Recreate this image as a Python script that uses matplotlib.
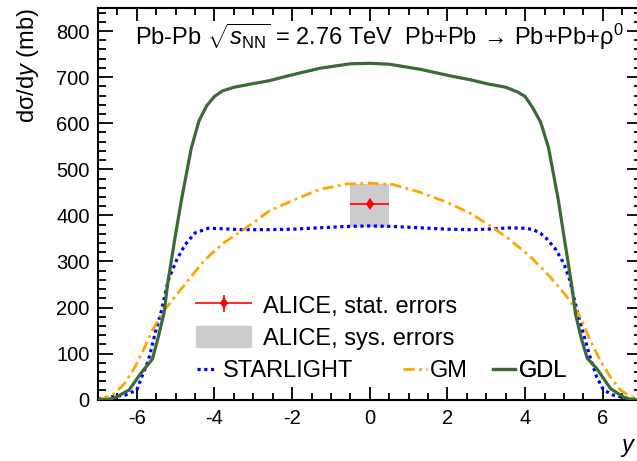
import numpy as np
import matplotlib
matplotlib.use("Agg")
import matplotlib.pyplot as plt
from matplotlib.patches import Patch
from matplotlib.lines import Line2D
from matplotlib.legend_handler import HandlerErrorbar
from matplotlib.ticker import MultipleLocator

plt.rcParams['font.family'] = ['Liberation Sans', 'DejaVu Sans']
plt.rcParams['mathtext.fontset'] = 'custom'
plt.rcParams['mathtext.rm'] = 'Liberation Sans'
plt.rcParams['mathtext.it'] = 'Liberation Sans:italic'
plt.rcParams['mathtext.sf'] = 'Liberation Sans'
plt.rcParams['axes.unicode_minus'] = False

# --- model curves, d sigma / dy in mb ---
gdl_y = [-7.0, -6.75, -6.55, -6.2, -5.9, -5.6, -5.45, -5.3, -5.2, -5.0, -4.85, -4.6, -4.4, -4.2,
         -4.0, -3.8, -3.5, -3.0, -2.6, -2.0, -1.3, -0.5, 0.0, 0.5, 1.3, 2.0, 2.6, 3.0, 3.5, 3.8,
         4.0, 4.2, 4.4, 4.6, 4.85, 5.0, 5.2, 5.3, 5.45, 5.6, 5.85, 6.2, 6.55, 6.75, 7.0]
gdl_val = [0, 0, 5, 21, 57, 88, 135, 188, 255, 360, 434, 545, 605, 638,
           658, 670, 678, 686, 692, 705, 719, 729, 730, 728, 717, 704, 694, 686, 678, 668,
           658, 633, 602, 548, 436, 355, 248, 185, 132, 90, 67, 24, 5, 0, 0]

starlight_y = [-7.0, -6.6, -6.3, -6.0, -5.87, -5.7, -5.53, -5.36, -5.19, -4.97, -4.76, -4.5,
               -4.16, -3.8, -3.3, -2.6, -2.0, -1.3, -0.6, 0.0, 0.6, 1.3, 2.0, 2.6, 3.0, 3.6,
               4.0, 4.21, 4.4, 4.56, 4.8, 5.0, 5.15, 5.33, 5.5, 5.67, 5.84, 6.02, 6.27, 6.62, 7.0]
starlight_val = [1, 7, 10, 21, 50, 86, 144, 195, 260, 304, 336, 362,
                 372, 371, 369, 369, 370, 373, 376, 377, 376, 373, 370, 369, 370, 373,
                 372, 369, 361, 349, 325, 295, 260, 195, 144, 93, 50, 21, 10, 3, 1]

gm_y = [-7.0, -6.85, -6.56, -6.3, -6.04, -5.79, -5.57, -5.35, -5.01, -4.67, -4.24, -3.77,
        -3.2, -2.6, -2.0, -1.3, -0.6, 0.0, 0.6, 1.3, 2.0, 2.6, 3.2, 3.61, 4.13, 4.64, 5.07,
        5.42, 5.67, 5.93, 6.19, 6.45, 6.71, 7.0]
gm_val = [0, 3, 14, 37, 72, 115, 155, 188, 224, 260, 304, 340,
          372, 409, 432, 456, 468, 470, 467, 450, 428, 404, 372, 347, 311, 267, 224,
          180, 130, 86, 50, 21, 7, 0]

# --- ALICE measurement ---
alice_y = [0.0]
alice_val = [425]
alice_bin = [0.5]
alice_stat = [10]
alice_sys_lo = [50]
alice_sys_hi = [42]

fig = plt.figure(figsize=(6.37, 4.61), dpi=100)
ax = fig.add_axes([98 / 637, 61.3 / 461, 543.6 / 637, 391.7 / 461])

ax.bar(alice_y, np.add(alice_sys_lo, alice_sys_hi), width=2 * alice_bin[0],
       bottom=np.subtract(alice_val, alice_sys_lo), color='#cccccc', zorder=1)
ax.plot(starlight_y, starlight_val, color='#0000ff', lw=2.3, ls=(0, (1, 1.1)), zorder=3)
ax.plot(gm_y, gm_val, color='#ffa500', lw=2.0, ls=(0, (4, 1.6, 1, 1.6)), zorder=3)
ax.plot(gdl_y, gdl_val, color='#3b6b35', lw=2.3, zorder=3)
eb = ax.errorbar(alice_y, alice_val, xerr=alice_bin, yerr=alice_stat, fmt='d', color='red',
                 ms=6, mew=0, elinewidth=1.2, capsize=0, zorder=4)

ax.set_xlim(-7, 7)
ax.set_ylim(0, 850)
ax.xaxis.set_major_locator(MultipleLocator(2))
ax.xaxis.set_minor_locator(MultipleLocator(0.5))
ax.yaxis.set_major_locator(MultipleLocator(100))
ax.yaxis.set_minor_locator(MultipleLocator(20))
ax.tick_params(which='both', direction='in', top=True, right=True, width=1.3, labelsize=14.5)
ax.tick_params(axis='x', which='major', length=9.5, pad=7)
ax.tick_params(axis='x', which='minor', length=5)
ax.tick_params(axis='y', which='major', length=11, pad=6)
ax.tick_params(axis='y', which='minor', length=5.5)
for s in ax.spines.values():
    s.set_linewidth(1.5)

ax.set_ylabel('dσ/d$y$ (mb)', fontsize=17, loc='top', labelpad=11)
ax.set_xlabel('$y$', fontsize=17, ha='right')
ax.xaxis.set_label_coords(0.991, -0.095)

ax.text(0.068, 0.9055,
        r'Pb-Pb $\sqrt{s_{\rm NN}}$ = 2.76 TeV  Pb+Pb$\,\rightarrow\,$Pb+Pb+ρ$^{0}$',
        transform=ax.transAxes, fontsize=17, va='baseline', ha='left')

fs = 17
leg1 = ax.legend([eb, Patch(color='#cccccc')], ['ALICE, stat. errors', 'ALICE, sys. errors'],
                 loc='upper left', bbox_to_anchor=(0.18, 0.27), frameon=False, fontsize=fs,
                 handlelength=2.35, handleheight=1.0, handletextpad=0.5, borderpad=0,
                 borderaxespad=0, labelspacing=0.36,
                 handler_map={type(eb): HandlerErrorbar(xerr_size=1.2, yerr_size=0.36)})
ax.add_artist(leg1)
model_entries = [
    (Line2D([], [], color='#0000ff', lw=2.3, ls=(0, (1, 1.1))), 'STARLIGHT', 0.182, 0.8, 0.3),
    (Line2D([], [], color='#ffa500', lw=2.0, ls=(0, (4, 1.6, 1, 1.6))), 'GM', 0.561, 1.0, 0.15),
    (Line2D([], [], color='#3b6b35', lw=2.3), 'GDL', 0.7266, 0.95, 0.15),
]
for handle, label, xpos, hlen, pad in model_entries:
    leg = ax.legend([handle], [label], loc='center left', bbox_to_anchor=(xpos, 0.073),
                    frameon=False, fontsize=fs, handlelength=hlen, handletextpad=pad,
                    borderpad=0, borderaxespad=0)
    ax.add_artist(leg)

fig.savefig('out.png', dpi=100)
